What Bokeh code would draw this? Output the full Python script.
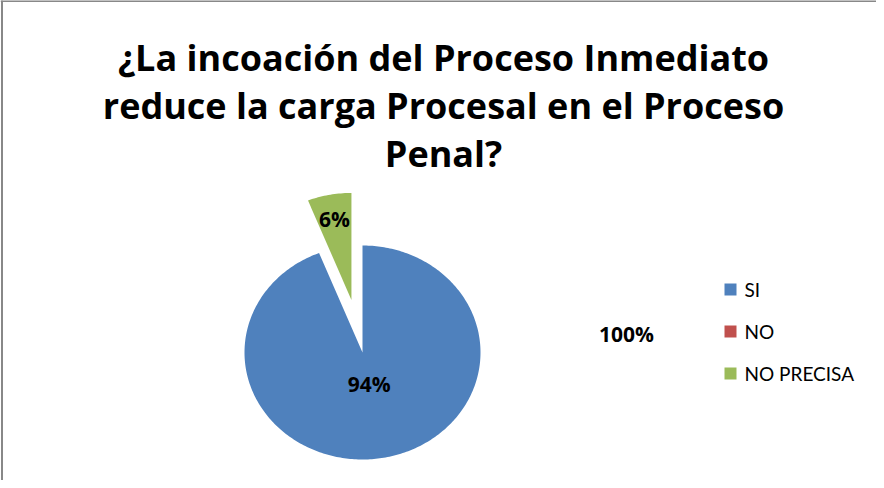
import numpy as np
from bokeh.plotting import figure
from bokeh.models import Range1d, Label, Span, ColumnDataSource
from bokeh.core.properties import value
from bokeh.embed import file_html
from bokeh.resources import INLINE

# ---- data ----
title_lines = ["¿La incoación del Proceso Inmediato",
               "reduce la carga Procesal en el Proceso",
               "Penal?"]
categories = ["SI", "NO", "NO PRECISA"]
values = [94, 0, 6]
data_labels = ["94%", "100%", "6%"]

# ---- style ----
colors = ["#4F81BD", "#C0504D", "#9BBB59"]
explode = [0.0, 0.0, 0.5]
label_r = [0.30, None, 0.77]
TFONT = "Open Sans"
LFONT = "Lato"

W, H = 876, 480
CX, CY = 362, 352          # pie centre in canvas px (from top-left)
RX, RY = 118, 107          # pie radii in px (chart is stretched horizontally)

p = figure(width=W, height=H, output_backend="svg", toolbar_location=None,
           x_range=Range1d(-CX / RX, (W - CX) / RX),
           y_range=Range1d(-(H - CY) / RY, CY / RY),
           min_border=0, outline_line_color=None)
p.axis.visible = False
p.grid.visible = False
p.background_fill_color = "white"
p.border_fill_color = "white"

def to_x(px):  # image px -> data
    return (px - 8 - CX) / RX

def to_y(py):
    return (CY - (py - 8)) / RY

# ---- pie slices ----
total = float(sum(values))
cum = 0.0
xs, ys, fills = [], [], []
for v, c, ex in zip(values, colors, explode):
    a0 = np.pi / 2 - cum / total * 2 * np.pi
    a1 = a0 - v / total * 2 * np.pi
    mid = (a0 + a1) / 2
    ox, oy = ex * np.cos(mid), ex * np.sin(mid)
    t = np.linspace(a0, a1, max(2, int(abs(a1 - a0) * 60)))
    xs.append(list(np.concatenate([[ox], ox + np.cos(t), [ox]])))
    ys.append(list(np.concatenate([[oy], oy + np.sin(t), [oy]])))
    fills.append(c)
    cum += v

src = ColumnDataSource(dict(xs=xs, ys=ys, color=fills, cat=categories))
p.patches("xs", "ys", source=src, fill_color="color", line_color=None)

# ---- data labels ----
cum = 0.0
for v, lab, ex, lr in zip(values, data_labels, explode, label_r):
    a0 = np.pi / 2 - cum / total * 2 * np.pi
    a1 = a0 - v / total * 2 * np.pi
    mid = (a0 + a1) / 2
    cum += v
    if lr is None:
        lx, ly = to_x(634), to_y(341)
    else:
        lx = (ex + lr) * np.cos(mid)
        ly = (ex + lr) * np.sin(mid)
    p.add_layout(Label(x=lx, y=ly, text=lab, text_font=TFONT, text_font_style="bold",
                       text_font_size="21px", text_color="black",
                       text_align="center", text_baseline="middle"))

# ---- title ----
for i, line in enumerate(title_lines):
    p.add_layout(Label(x=to_x(451), y=to_y(65 + 48 * i), text=line,
                       text_font=TFONT, text_font_style="bold", text_font_size="36px",
                       text_color="black", text_align="center",
                       text_baseline="alphabetic"))

# ---- legend ----
leg_y = [to_y(297 + 42 * i) for i in range(len(categories))]
p.scatter(x=[to_x(738)] * len(categories), y=leg_y, marker="square", size=12,
          fill_color=colors, line_color=None)
p.text(x=[to_x(752)] * len(categories), y=leg_y, text=categories,
       text_font=value(LFONT), text_font_size="19px", text_color="black",
       text_align="left", text_baseline="middle")

# ---- chart border (left & top) ----
p.add_layout(Span(location=to_x(9.5), dimension="height", line_color="#888888", line_width=2))
p.add_layout(Span(location=to_y(8.5), dimension="width", line_color="#888888", line_width=2))

open("out.html", "w").write(file_html(p, INLINE))
